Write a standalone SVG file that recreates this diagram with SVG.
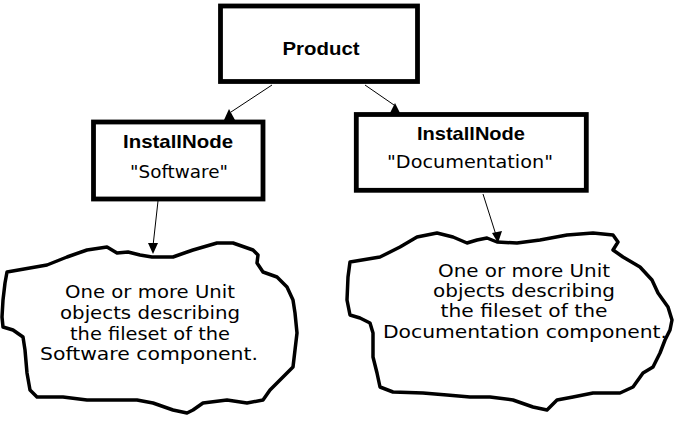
<svg xmlns="http://www.w3.org/2000/svg" width="678" height="422" viewBox="0 0 678 422">
<style>
.box{fill:#fff;stroke:#000;stroke-width:4.8}
.cloud{fill:#fff;stroke:#000;stroke-width:3.5;stroke-linejoin:round}
.b{font-family:"Liberation Sans",Arial,sans-serif;font-weight:bold;font-size:19px;fill:#000}
.r{font-family:"DejaVu Sans","Liberation Sans",sans-serif;font-size:18px;fill:#000}
.ln{stroke:#000;stroke-width:1;fill:none}
.ah{fill:#000;stroke:none}
</style>
<rect width="678" height="422" fill="#fff"/>
<g id="product">
<rect class="box" x="220.5" y="6" width="197" height="75.5"/>
<text class="b" x="321" y="55" text-anchor="middle" textLength="77" lengthAdjust="spacingAndGlyphs">Product</text>
</g>
<g id="software">
<rect class="box" x="93.5" y="122" width="169.5" height="77"/>
<text class="b" x="178" y="148" text-anchor="middle" textLength="110" lengthAdjust="spacingAndGlyphs">InstallNode</text>
<text class="r" x="179" y="178" text-anchor="middle" textLength="98" lengthAdjust="spacingAndGlyphs">"Software"</text>
</g>
<g id="documentation">
<rect class="box" x="356.3" y="114.5" width="230" height="75.8"/>
<text class="b" x="471" y="140" text-anchor="middle" textLength="108" lengthAdjust="spacingAndGlyphs">InstallNode</text>
<text class="r" x="470" y="168" text-anchor="middle" textLength="166" lengthAdjust="spacingAndGlyphs">"Documentation"</text>
</g>
<g id="software-units">
<path class="cloud" d="M7,272 L47,265 L67,257 L87,250 L107,247 L117,253 L128,252 L140,255 L152,257 L173,257 L193,250 L217,243 L233,243 L253,250 L258,255 L257,263 L263,272 L277,277 L287,287 L293,300 L295,313 L297,333 L295,350 L293,367 L287,373 L280,380 L270,390 L263,400 L247,403 L227,400 L203,403 L193,410 L187,413 L173,410 L153,403 L137,400 L117,400 L87,400 L63,397 L37,397 L30,390 L27,373 L25,350 L23,337 L13,330 L3,327 L2,317 L3,300 L5,283 Z"/>
<text class="r" x="150" y="298" text-anchor="middle" textLength="170" lengthAdjust="spacingAndGlyphs">One or more Unit</text>
<text class="r" x="150" y="319" text-anchor="middle" textLength="180" lengthAdjust="spacingAndGlyphs">objects describing</text>
<text class="r" x="150" y="340" text-anchor="middle" textLength="160" lengthAdjust="spacingAndGlyphs">the fileset of the</text>
<text class="r" x="149" y="360" text-anchor="middle" textLength="218" lengthAdjust="spacingAndGlyphs">Software component.</text>
</g>
<g id="documentation-units">
<path class="cloud" d="M350,262 L380,257 L400,247 L417,237 L437,233 L453,237 L467,243 L477,240 L487,238 L497,242 L517,243 L540,240 L567,235 L593,233 L613,235 L618,242 L613,250 L623,257 L640,267 L652,280 L658,293 L668,307 L672,320 L670,330 L665,340 L660,353 L653,367 L643,373 L633,387 L620,393 L593,393 L573,397 L557,400 L547,410 L533,407 L513,400 L490,397 L470,397 L447,395 L423,393 L393,392 L380,387 L377,373 L373,357 L373,333 L370,323 L360,318 L350,315 L347,300 L348,277 Z"/>
<text class="r" x="524" y="277" text-anchor="middle" textLength="172" lengthAdjust="spacingAndGlyphs">One or more Unit</text>
<text class="r" x="524" y="297" text-anchor="middle" textLength="182" lengthAdjust="spacingAndGlyphs">objects describing</text>
<text class="r" x="524" y="317" text-anchor="middle" textLength="167" lengthAdjust="spacingAndGlyphs">the fileset of the</text>
<text class="r" x="525" y="338" text-anchor="middle" textLength="284" lengthAdjust="spacingAndGlyphs">Documentation component.</text>
</g>
<g id="connectors">
<line class="ln" x1="272" y1="85" x2="231" y2="112"/>
<polygon class="ah" points="229,109 224,120 235,120"/>
<line class="ln" x1="365" y1="85" x2="394" y2="105"/>
<polygon class="ah" points="395,103 390,113 400,113"/>
<line class="ln" x1="158" y1="201" x2="153" y2="246"/>
<polygon class="ah" points="148,243 158,243 153,254"/>
<line class="ln" x1="483" y1="194" x2="496" y2="235"/>
<polygon class="ah" points="492,233 502,231 498,243"/>
</g>
</svg>
